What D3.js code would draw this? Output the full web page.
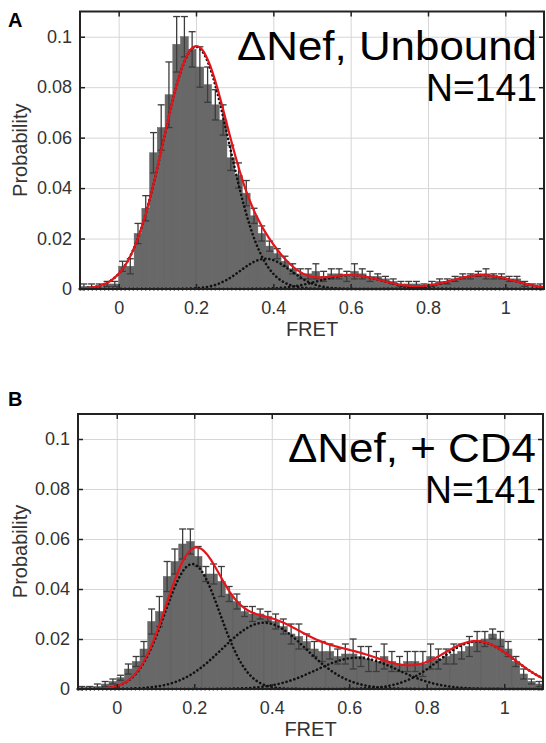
<!DOCTYPE html>
<html lang="en">
<head>
  <meta charset="UTF-8">
  <title>FRET histograms</title>
  <script src="https://d3js.org/d3.v7.min.js"></script>
  <style>
      body { margin: 0; background: #fff; }
      text { font-family: "Liberation Sans", Arial, sans-serif; }
      .tick text { font-size: 18px; fill: #333; }
      .grid line { stroke: #d6d6d6; stroke-width: 1px; }
      .grid path, .grid text { display: none; }
      .frame path { display: none; }
      .frame line { stroke: #222; stroke-width: 1.5px; }
  </style>
</head>
<body>
<svg width="546" height="743"></svg>
<script>
  // bin centres (bin width 0.02)
  const binCenters = [
    -0.09, -0.07, -0.05, -0.03, -0.01, 0.01, 0.03, 0.05, 0.07, 0.09,
    0.11, 0.13, 0.15, 0.17, 0.19, 0.21, 0.23, 0.25, 0.27, 0.29,
    0.31, 0.33, 0.35, 0.37, 0.39, 0.41, 0.43, 0.45, 0.47, 0.49,
    0.51, 0.53, 0.55, 0.57, 0.59, 0.61, 0.63, 0.65, 0.67, 0.69,
    0.71, 0.73, 0.75, 0.77, 0.79, 0.81, 0.83, 0.85, 0.87, 0.89,
    0.91, 0.93, 0.95, 0.97, 0.99, 1.01, 1.03, 1.05, 1.07, 1.09
  ];
  const binWidth = 0.02;

  // panel A : unbound
  const probA = [
    0.001, 0.001, 0.001, 0.002, 0.002, 0.009, 0.009, 0.022, 0.032, 0.054,
    0.064, 0.077, 0.097, 0.100, 0.095, 0.088, 0.081, 0.073, 0.067, 0.052,
    0.045, 0.038, 0.029, 0.022, 0.017, 0.014, 0.011, 0.008, 0.006, 0.006,
    0.007, 0.005, 0.006, 0.006, 0.005, 0.007, 0.006, 0.005, 0.005, 0.004,
    0.003, 0.002, 0.002, 0.002, 0.001, 0.002, 0.003, 0.003, 0.004, 0.005,
    0.005, 0.006, 0.006, 0.005, 0.005, 0.004, 0.004, 0.002, 0.001, 0.001
  ];
  const errA = [
    0.001, 0.001, 0.001, 0.001, 0.001, 0.002, 0.003, 0.004, 0.005, 0.008,
    0.009, 0.013, 0.011, 0.008, 0.007, 0.008, 0.007, 0.006, 0.006, 0.005,
    0.005, 0.005, 0.003, 0.003, 0.002, 0.002, 0.002, 0.002, 0.002, 0.002,
    0.003, 0.002, 0.002, 0.002, 0.002, 0.003, 0.002, 0.002, 0.001, 0.001,
    0.001, 0.001, 0.001, 0.001, 0.001, 0.001, 0.001, 0.001, 0.001, 0.001,
    0.001, 0.001, 0.002, 0.001, 0.001, 0.001, 0.001, 0.001, 0.001, 0.001
  ];
  // gaussian fit components
  const fitCentersA = [0.20, 0.38, 0.60, 0.94];
  const fitHeightsA = [0.096, 0.012, 0.0055, 0.0055];
  const fitWidthsA  = [0.085, 0.065, 0.08, 0.08];

  // panel B : + CD4
  const probB = [
    0.0005, 0.0005, 0.001, 0.002, 0.003, 0.0045, 0.008, 0.011, 0.016, 0.027,
    0.031, 0.045, 0.051, 0.058, 0.059, 0.053, 0.046, 0.046, 0.043, 0.038,
    0.035, 0.031, 0.030, 0.030, 0.029, 0.027, 0.025, 0.022, 0.021, 0.019,
    0.016, 0.015, 0.015, 0.013, 0.014, 0.014, 0.013, 0.012, 0.011, 0.013,
    0.011, 0.010, 0.011, 0.011, 0.010, 0.013, 0.012, 0.013, 0.014, 0.015,
    0.017, 0.019, 0.020, 0.022, 0.020, 0.016, 0.011, 0.006, 0.003, 0.002
  ];
  const errB = [
    0.0005, 0.0005, 0.001, 0.001, 0.001, 0.001, 0.002, 0.002, 0.003, 0.005,
    0.006, 0.006, 0.005, 0.006, 0.005, 0.004, 0.003, 0.004, 0.006, 0.003,
    0.003, 0.002, 0.003, 0.002, 0.002, 0.003, 0.003, 0.004, 0.005, 0.003,
    0.003, 0.004, 0.003, 0.003, 0.004, 0.006, 0.004, 0.005, 0.004, 0.005,
    0.004, 0.003, 0.004, 0.004, 0.005, 0.005, 0.004, 0.003, 0.004, 0.003,
    0.004, 0.004, 0.003, 0.002, 0.003, 0.003, 0.002, 0.002, 0.001, 0.001
  ];
  const fitCentersB = [0.195, 0.38, 0.62, 0.93];
  const fitHeightsB = [0.050, 0.0265, 0.0125, 0.019];
  const fitWidthsB  = [0.071, 0.108, 0.106, 0.098];

  const xTicks = [0, 0.2, 0.4, 0.6, 0.8, 1];
  const yTicks = [0, 0.02, 0.04, 0.06, 0.08, 0.1];

  const svg = d3.select("svg");

  function gauss(x, c, h, w) {
    return h * Math.exp(-((x - c) * (x - c)) / (2 * w * w));
  }

  function drawPanel(p) {
    const x = d3.scaleLinear().domain([-0.1, 1.1]).range([p.left, p.right]);
    const y = d3.scaleLinear().domain([0, 0.11]).range([p.bottom, p.top]);
    const g = svg.append("g");

    // grid
    g.append("g").attr("class", "grid")
      .attr("transform", `translate(0,${p.bottom})`)
      .call(d3.axisBottom(x).tickValues(xTicks).tickSize(-(p.bottom - p.top)));
    g.append("g").attr("class", "grid")
      .attr("transform", `translate(${p.left},0)`)
      .call(d3.axisLeft(y).tickValues(yTicks).tickSize(-(p.right - p.left)));

    // histogram
    g.append("g").selectAll("rect")
      .data(p.prob)
      .join("rect")
      .attr("x", (d, i) => x(binCenters[i] - binWidth / 2))
      .attr("width", x(binWidth) - x(0))
      .attr("y", d => y(d))
      .attr("height", d => y(0) - y(d))
      .attr("fill", "#686868")
      .attr("stroke", "#5e5e5e")
      .attr("stroke-width", 0.5);

    // error bars
    const eb = g.append("g").attr("stroke", "#3c3c3c").attr("stroke-width", 1.3);
    p.prob.forEach((v, i) => {
      const cx = x(binCenters[i]);
      const e = p.err[i];
      const y1 = y(Math.max(v - e, 0)), y2 = y(v + e);
      eb.append("line").attr("x1", cx).attr("x2", cx).attr("y1", y1).attr("y2", y2);
      eb.append("line").attr("x1", cx - 3.5).attr("x2", cx + 3.5).attr("y1", y2).attr("y2", y2);
      eb.append("line").attr("x1", cx - 3.5).attr("x2", cx + 3.5).attr("y1", y1).attr("y2", y1);
    });

    // fitted gaussians
    const xs = d3.range(-0.1, 1.1001, 0.004);
    const line = d3.line().x(d => x(d[0])).y(d => y(d[1]));
    p.centers.forEach((c, k) => {
      g.append("path")
        .datum(xs.map(v => [v, gauss(v, c, p.heights[k], p.widths[k])]))
        .attr("d", line)
        .attr("fill", "none")
        .attr("stroke", "#111")
        .attr("stroke-width", 2.6)
        .attr("stroke-linecap", "round")
        .attr("stroke-dasharray", "0.1 4");
    });
    g.append("path")
      .datum(xs.map(v => [v, d3.sum(p.centers, (c, k) => gauss(v, c, p.heights[k], p.widths[k]))]))
      .attr("d", line)
      .attr("fill", "none")
      .attr("stroke", "#e3151b")
      .attr("stroke-width", 2.2);

    // frame with inward ticks
    const frame = g.append("g").attr("class", "frame");
    frame.append("g").attr("transform", `translate(0,${p.bottom})`)
      .call(d3.axisBottom(x).tickValues(xTicks).tickSize(-5).tickPadding(12).tickFormat(d => String(d)));
    frame.append("g").attr("transform", `translate(${p.left},0)`)
      .call(d3.axisLeft(y).tickValues(yTicks).tickSize(-5).tickPadding(8).tickFormat(d => String(d)));
    frame.append("g").attr("transform", `translate(0,${p.top})`)
      .call(d3.axisTop(x).tickValues(xTicks).tickSize(-5).tickFormat(""));
    frame.append("g").attr("transform", `translate(${p.right},0)`)
      .call(d3.axisRight(y).tickValues(yTicks).tickSize(-5).tickFormat(""));
    g.append("rect")
      .attr("x", p.left).attr("y", p.top)
      .attr("width", p.right - p.left).attr("height", p.bottom - p.top)
      .attr("fill", "none").attr("stroke", "#222").attr("stroke-width", 2);

    // labels
    g.append("text")
      .attr("x", 8).attr("y", p.letterY)
      .attr("font-size", 20).attr("font-weight", "bold")
      .text(p.letter);
    g.append("text")
      .attr("transform", `translate(27,${(p.top + p.bottom) / 2}) rotate(-90)`)
      .attr("text-anchor", "middle")
      .attr("font-size", 20).attr("fill", "#333")
      .text("Probability");
    g.append("text")
      .attr("x", x(0.5)).attr("y", p.bottom + 47)
      .attr("text-anchor", "middle")
      .attr("font-size", 20).attr("fill", "#333")
      .text("FRET");
    g.append("text")
      .attr("x", p.right - 7).attr("y", p.top + 48)
      .attr("text-anchor", "end")
      .attr("font-size", 41)
      .attr("textLength", p.titleLen).attr("lengthAdjust", "spacingAndGlyphs")
      .text(p.title);
    g.append("text")
      .attr("x", p.right - 7).attr("y", p.top + 89)
      .attr("text-anchor", "end")
      .attr("font-size", 38)
      .attr("textLength", 111).attr("lengthAdjust", "spacingAndGlyphs")
      .text("N=141");
  }

  drawPanel({
    left: 80, right: 544, top: 11.5, bottom: 289,
    prob: probA, err: errA,
    centers: fitCentersA, heights: fitHeightsA, widths: fitWidthsA,
    letter: "A", letterY: 27, title: "\u0394Nef, Unbound", titleLen: 300
  });

  drawPanel({
    left: 78, right: 543, top: 414, bottom: 689,
    prob: probB, err: errB,
    centers: fitCentersB, heights: fitHeightsB, widths: fitWidthsB,
    letter: "B", letterY: 406, title: "\u0394Nef, + CD4", titleLen: 248
  });
</script>
</body>
</html>
